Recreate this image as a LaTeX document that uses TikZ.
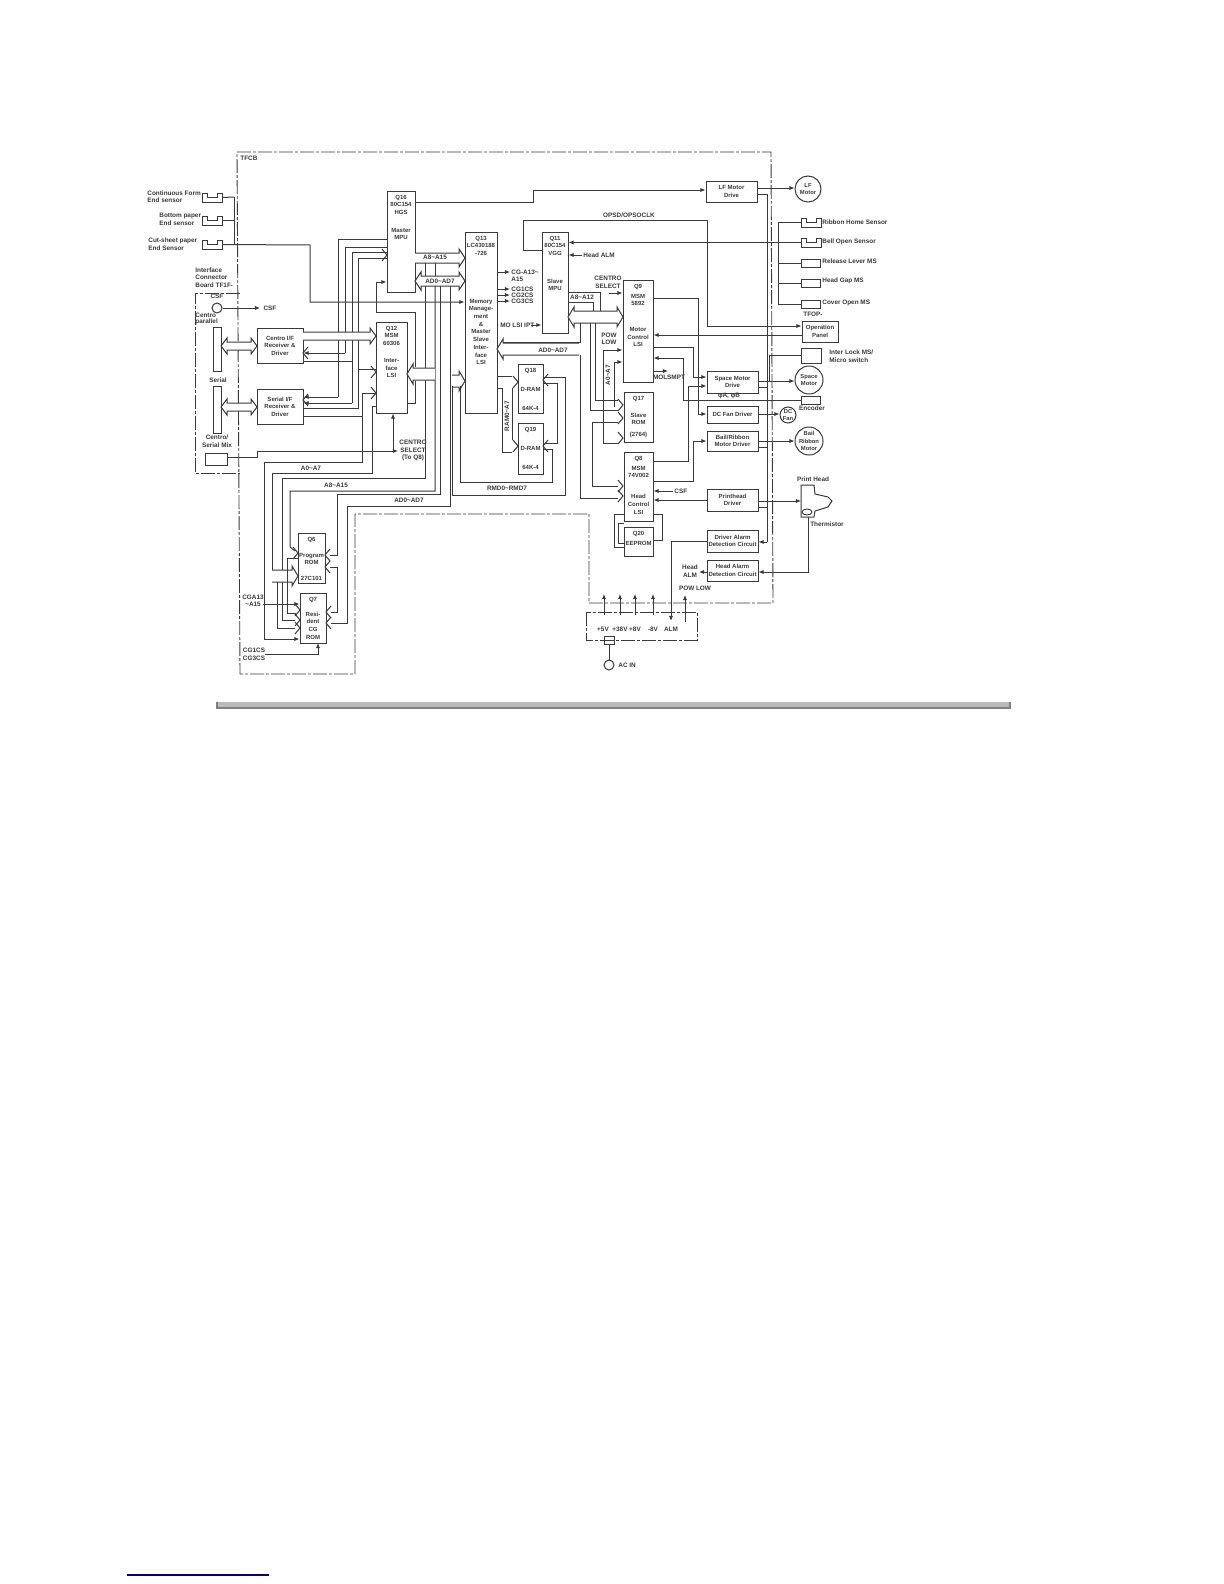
\documentclass[tikz,border=0pt]{standalone}
\usepackage{fontspec}
\setmainfont{Liberation Sans}
\usetikzlibrary{arrows.meta}
\definecolor{ink}{HTML}{3A3A3A}
\newcounter{lb}
\newcommand{\tl}{\char"7E\relax}
\tikzset{
  x=0.5pt,y=-0.5pt,
  wire/.style={line width=0.5pt,draw=ink},
  ar/.style={wire,-{Latex[length=2.6pt,width=2.2pt]}},
  frameline/.style={line width=0.45pt,draw=ink,dash pattern=on 7pt off 1pt on 1.5pt off 1pt},
  bx/.style={draw=ink,line width=0.5pt,fill=white,inner sep=0pt,align=center,text=ink,font=\fontsize{3}{3.8}\selectfont\bfseries},
  lbl/.style={inner sep=0pt,align=center,text=ink,font=\fontsize{3.2}{3.8}\selectfont\bfseries},
  inbox/.style={inner sep=0pt,align=center,text=ink,font=\fontsize{3}{3.85}\selectfont\bfseries},
  mot/.style={draw=ink,line width=0.5pt,circle,fill=white,inner sep=0pt,align=center,text=ink,font=\fontsize{2.9}{3.6}\selectfont\bfseries},
  hollow/.style={line width=0.5pt,draw=ink,fill=white}
}
\newcommand{\bxn}[6]{\node[bx,minimum width={(#4-#2)*0.5pt},minimum height={(#5-#3)*0.5pt}] (#1) at ({(#2+#4)/2},{(#3+#5)/2}) {#6};}
% box whose text starts at its top edge
\newcommand{\bxq}[6]{\node[bx,minimum width={(#4-#2)*0.5pt},minimum height={(#5-#3)*0.5pt}] (#1) at ({(#2+#4)/2},{(#3+#5)/2}) {};
  \node[inbox,anchor=north] (#1txt) at ({(#2+#4)/2},{#3+3.5}) {#6};}
\newcommand{\lb}[4][]{\stepcounter{lb}\node[lbl,#1] (t\arabic{lb}) at (#2,#3) {#4};}
\newcommand{\sens}[3]{\node[minimum width=10pt,minimum height=4.5pt,inner sep=0pt] (#1) at ({#2+10},{#3+4.5}) {};
  \draw[line width=0.5pt,draw=ink] (#2,#3) -- ({#2+5},#3) -- ({#2+5},{#3+4}) -- ({#2+15},{#3+4}) -- ({#2+15},#3) -- ({#2+20},#3) -- ({#2+20},{#3+9}) -- (#2,{#3+9}) -- cycle;}
% hollow bus: both heads / right head / left head
\newcommand{\busB}[4]{\draw[hollow] (#1,#3) -- ({#1+6},{#3-#4-4}) -- ({#1+6},{#3-#4}) -- ({#2-6},{#3-#4}) -- ({#2-6},{#3-#4-4}) -- (#2,#3) -- ({#2-6},{#3+#4+4}) -- ({#2-6},{#3+#4}) -- ({#1+6},{#3+#4}) -- ({#1+6},{#3+#4+4}) -- cycle;}
\newcommand{\busR}[4]{\draw[hollow] (#1,{#3-#4}) -- ({#2-6},{#3-#4}) -- ({#2-6},{#3-#4-4}) -- (#2,#3) -- ({#2-6},{#3+#4+4}) -- ({#2-6},{#3+#4}) -- (#1,{#3+#4});}
\newcommand{\busL}[4]{\draw[hollow] (#2,{#3-#4}) -- ({#1+6},{#3-#4}) -- ({#1+6},{#3-#4-4}) -- (#1,#3) -- ({#1+6},{#3+#4+4}) -- ({#1+6},{#3+#4}) -- (#2,{#3+#4});}
\newcommand{\chR}[2]{\draw[wire] ({#1-5},{#2-6}) -- (#1,#2) -- ({#1-5},{#2+6});}
\newcommand{\chL}[2]{\draw[wire] ({#1+5},{#2-6}) -- (#1,#2) -- ({#1+5},{#2+6});}
\begin{document}
\begin{tikzpicture}
\useasboundingbox (0,0) rectangle (1224,1584);
\fill[white] (0,0) rectangle (1224,1584);

% TFCB frame
\draw[frameline] (237,152) -- (771,152) -- (773,603) -- (589,603) -- (589,514) -- (355,514) -- (355,674) -- (240,674) -- cycle;
\lb[anchor=west]{240}{158}{TFCB}
% interface board frame
\draw[frameline] (240,293) -- (195,293) -- (195,473) -- (240,473);

% --- main boxes
\bxq{qsixteen}{387}{191}{415}{292}{Q16\\80C154\\HGS\\[5pt]Master\\MPU}
\bxq{qthirteen}{465}{232}{497}{413}{Q13\\LC430188\\-726\\[20pt]Memory\\Manage-\\ment\\\&\\Master\\Slave\\Inter-\\face\\LSI}
\bxq{qeleven}{542}{232}{568}{333}{Q11\\80C154\\VGG\\[10pt]Slave\\MPU}
\bxq{qnine}{623}{280}{653}{382}{Q9\\[1.2pt]MSM\\5892\\[9pt]Motor\\Control\\LSI}
\bxq{qseventeen}{624}{392}{653}{442}{Q17\\[4.7pt]Slave\\ROM\\[2.2pt](2764)}
\bxq{qeight}{624}{452}{653}{521}{Q8\\[1.2pt]MSM\\74V002\\[6.7pt]Head\\Control\\LSI}
\bxq{qtwenty}{624}{527}{653}{556}{Q20\\[1.2pt]EEPROM}
\bxq{qeighteen}{518}{364}{543}{413}{Q18\\[5.7pt]D-RAM\\[5.7pt]64K-4}
\bxq{qnineteen}{518}{423}{543}{474}{Q19\\[5.7pt]D-RAM\\[5.7pt]64K-4}
\bxq{qtwelve}{376}{322}{407}{413}{Q12\\MSM\\60306\\[4.7pt]Inter-\\face\\LSI}
\bxn{centro}{257}{328}{303}{363}{Centro I/F\\Receiver \&\\Driver}
\bxn{serialif}{257}{389}{303}{424}{Serial I/F\\Receiver \&\\Driver}
\bxq{qsix}{298}{533}{325}{583}{Q6\\[4.2pt]Program\\ROM\\[4.2pt]27C101}
\bxq{qseven}{300}{593}{326}{643}{Q7\\[3.7pt]Resi-\\dent\\CG\\ROM}
\bxn{lfdrive}{706}{181}{757}{202}{LF Motor\\Drive}
\bxn{spdrive}{707}{371}{758}{393}{Space Motor\\Drive}
\bxn{fandrive}{707}{406}{758}{423}{DC Fan Driver}
\bxn{baildrive}{707}{431}{758}{451}{Bail/Ribbon\\Motor Driver}
\bxn{phdrive}{707}{489}{758}{511}{Printhead\\Driver}
\bxn{dalarm}{707}{530}{758}{552}{Driver Alarm\\Detection Circuit}
\bxn{halarm}{707}{560}{758}{581}{Head Alarm\\Detection Circuit}
\bxn{oppanel}{802}{321}{838}{342}{Operation\\Panel}
\bxn{release}{801}{259}{820}{267}{}
\bxn{headgap}{801}{279}{820}{287}{}
\bxn{cover}{801}{300}{820}{308}{}
\bxn{interlock}{801}{348}{821}{363}{}
\bxn{encoder}{801}{396}{820}{404}{}
\bxn{conpar}{213}{327}{221}{371}{}
\bxn{conser}{213}{386}{221}{433}{}
\bxn{mixbox}{205}{453}{227}{465}{}
\bxn{pwrjack}{604}{636}{614}{644}{}

% motors
\node[mot,minimum size=13pt] (lfmotor) at (808,189) {LF\\Motor};
\node[mot,minimum size=14pt] (spmotor) at (809,380) {Space\\Motor};
\node[mot,minimum size=8pt] (dcfan) at (788,415) {DC\\Fan};
\node[mot,minimum size=14pt] (bailmotor) at (809,441) {Bail\\Ribbon\\Motor};
\node[mot,minimum size=5pt] (csfjack) at (217,308) {};
\node[mot,minimum size=5pt] (acin) at (609,665) {};

% sensors
\sens{senscont}{202}{193}
\sens{sensbot}{202}{216}
\sens{senscut}{202}{240}
\sens{sensrib}{801}{218}
\sens{sensbell}{801}{238}

% --- left sensor wires
\coordinate (sb) at (234,197);
\draw[wire] (senscont.east) -- (sb);
\draw[wire] (sensbot.east) -- (sensbot.east -| sb);
\draw[wire] (sb) -- (234,245);
\draw[ar] (senscut.east) -- (310,245) -- (310,302) -- (qthirteen.west |- 0,302);

% --- Q16 to top and LF drive
\draw[ar] (qsixteen.east |- 0,202) -- (533,202) -- (533,190) -- (lfdrive.west |- 0,190);
% --- Q16 left bus lines
\draw[wire] (qsixteen.west |- 0,239) -- (338,239) -- (338,397);
\draw[ar] (338,397) -- (serialif.east |- 0,397);
\draw[ar] (345,353) -- (centro.east |- 0,353);
\draw[wire] (qsixteen.west |- 0,247) -- (345,247) -- (345,353);
\draw[wire] (qsixteen.west |- 0,252) -- (352,252) -- (352,403);
\draw[wire] (centro.east |- 0,361) -- (352,361);
\draw[ar] (352,403) -- (serialif.east |- 0,403);
\draw[wire] (qsixteen.west |- 0,258) -- (358,258) -- (358,408) -- (serialif.east |- 0,408);
\chR{387}{255}
\draw[wire] (358,369) -- (qtwelve.west |- 0,369);
\chR{376}{372}
\draw[wire] (serialif.east |- 0,416) -- (362,416) -- (362,462) -- (264,462) -- (264,639);
\draw[ar] (264,639) -- (qseven.west |- 0,639);
\draw[wire] (362,416) -- (362,393);
\draw[wire] (362,393) -- (qtwelve.west |- 0,393);
\chR{376}{393}
% Centro to Q12
\busR{303}{376}{336}{4}
\chL{303}{353}
\chL{303}{400}
% connector buses
\busB{221}{257}{346}{4}
\busB{221}{257}{407}{4}
% CSF
\draw[ar] (csfjack.east) -- (260,308);
\lb{270}{308}{CSF}
\lb{217}{296}{CSF}
% Mix box to centro select
\draw[wire] (mixbox.east |- 0,457) -- (257,457) -- (257,451) -- (362,451);
\draw[wire] (362,451) -- (373,451);
\coordinate (cselpt) at (393,451);
\draw[wire] (373,451) -- (cselpt);
\draw[ar] (cselpt) -- (398,451);
\draw[ar] (cselpt) -- (cselpt |- qtwelve.south);
\draw[wire] (qtwelve.west |- 0,406) -- (372,406) -- (372,473) -- (272,473) -- (272,570);
% Q16 to bus of Q12
\draw[ar] (415,312) -- (376,312) -- (376,282) -- (qsixteen.west |- 0,282);
\draw[wire] (415,312) -- (415,367);
% A8-A15 and AD buses Q16-Q13
\busR{415}{465}{258}{5}
\busB{415}{465}{281}{5}
\draw[wire] (425,263) -- (425,276);
\draw[wire] (425,286) -- (425,478) -- (282,478) -- (282,620) -- (295,620);
\draw[wire] (435,263) -- (435,276);
\draw[wire] (435,286) -- (435,491) -- (290,491) -- (290,547) -- (295,551);
\draw[wire] (440,286) -- (440,494) -- (337,494) -- (337,555) -- (330,555);
\draw[wire] (450,286) -- (450,506) -- (347,506) -- (347,623) -- (331,623);
% Q12 right bus
\busL{407}{435}{374}{6}
\draw[wire] (qtwelve.east |- 0,403) -- (415,403) -- (415,381);
% RAM data
\busR{452}{465}{381}{6}
\draw[wire] (452,386) -- (452,495) -- (565,495) -- (565,377) -- (qeighteen.east |- 0,377);
\draw[wire] (460,386) -- (460,482) -- (552,482) -- (552,449) -- (qnineteen.east |- 0,449);
\draw[wire] (557,383) -- (qeighteen.east |- 0,383);
\draw[wire] (557,383) -- (557,443) -- (qnineteen.east |- 0,443);
\chL{543}{380}
\chL{543}{446}
\lb{507}{488}{RMD0\tl RMD7}
% RAM address
\draw[wire] (qthirteen.east |- 0,376) -- (512,376);
\draw[wire] (qthirteen.east |- 0,388) -- (502,388) -- (502,452) -- (512,452);
\draw[wire] (512,388) -- (512,440);
\chR{518}{382}
\chR{518}{446}
\lb[rotate=90]{507}{416}{RAM0\tl A7}
% Q13 outputs
\draw[ar] (qthirteen.east |- 0,272) -- (510,272);
\draw[ar] (qthirteen.east |- 0,289) -- (510,289);
\draw[ar] (qthirteen.east |- 0,295) -- (510,295);
\draw[ar] (qthirteen.east |- 0,301) -- (510,301);
\lb[anchor=west]{511}{272}{CG-A13\tl}
\lb[anchor=west]{511}{279}{A15}
\lb[anchor=west]{511}{289}{CG1CS}
\lb[anchor=west]{511}{295}{CG2CS}
\lb[anchor=west]{511}{301}{CG3CS}
\lb[anchor=west]{500}{325}{MO LSI IPT}
\draw[ar] (531,325) -- (qeleven.west |- 0,325);
% Q11
\draw[ar] (582,255) -- (qeleven.east |- 0,255);
\lb[anchor=west]{583}{255}{Head ALM}
\draw[ar] (sensbell.west) -- (qeleven.east |- sensbell.west);
\draw[ar] (qeleven.west |- 0,250) -- (523,250) -- (523,220) -- (707,220) -- (707,326) -- (oppanel.west |- 0,326);
\lb{629}{215}{OPSD/OPSOCLK}
\draw[wire] (qeleven.east |- 0,292) -- (600,292) -- (600,311);
\draw[wire] (qeleven.east |- 0,302) -- (593,302) -- (593,311);
\lb{582}{297}{A8\tl A12}
\busB{568}{623}{317}{6}
% lower Q11 bus
\draw[wire] (580,323) -- (580,342) -- (503,342);
\busL{497}{579}{349}{6}
\draw[wire] (580,355) -- (580,498) -- (618,498);
\chR{623}{496}
\lb{553}{350}{AD0\tl AD7}
% Q17 Q8 bus lines
\draw[wire] (590,323) -- (590,410) -- (618,410);
\draw[wire] (595,323) -- (595,400) -- (618,400);
\draw[wire] (592,422) -- (618,422);
\draw[wire] (592,422) -- (592,486) -- (618,486);
\chR{623}{405}
\chR{623}{418}
\chR{623}{486}
\draw[ar] (603,350) -- (qnine.west |- 0,350);
\draw[wire] (603,350) -- (603,443) -- (618,443);
\chR{623}{438}
\draw[ar] (614,407) -- (614,362) -- (qnine.west |- 0,362);
\lb[rotate=90]{608}{375}{A0\tl A7}
\lb{609}{335}{POW}
\lb{609}{342}{LOW}
\lb{608}{278}{CENTRO}
\lb{608}{286}{SELECT}
\draw[ar] (609,293) -- (qnine.west |- 0,293);
% Q9 right
\draw[ar] (qnine.east |- 0,298) -- (698,298) -- (698,414) -- (fandrive.west |- 0,414);
\draw[ar] (qnine.east |- 0,347) -- (693,347) -- (693,377) -- (spdrive.west |- 0,377);
\draw[ar] (oppanel.west |- 0,335) -- (qnine.east |- 0,335);
\draw[ar] (encoder.west) -- (683,400) -- (683,358) -- (qnine.east |- 0,358);
\draw[ar] (qeight.east |- 0,461) -- (688,461) -- (688,386) -- (spdrive.west |- 0,386);
\draw[ar] (653,371) -- (668,371);
\lb{669}{377}{MOLSMPT}
\draw[ar] (qeight.east |- 0,481) -- (693,481) -- (693,441) -- (baildrive.west |- 0,441);
\draw[ar] (673,491) -- (qeight.east |- 0,491);
\lb[anchor=west]{674}{491}{CSF}
\draw[ar] (phdrive.west |- 0,500) -- (qeight.east |- 0,500);
% Q8-Q20
\draw[wire] (qeight.west |- 0,514) -- (614,514) -- (614,547) -- (qtwenty.west |- 0,547);
\draw[wire] (qtwenty.west |- 0,543) -- (618,543) -- (618,523) -- (624,523);
\draw[wire] (qeight.east |- 0,514) -- (662,514) -- (662,540) -- (qtwenty.east |- 0,540);
% right drivers to motors
\draw[ar] (lfdrive.east |- 0,188) -- (lfmotor.west |- 0,188);
\draw[ar] (spdrive.east |- 0,381) -- (spmotor.west |- 0,381);
\draw[ar] (fandrive.east |- 0,414) -- (dcfan.west |- 0,414);
\draw[ar] (baildrive.east |- 0,441) -- (bailmotor.west |- 0,441);
\draw[wire] (lfdrive.east |- 0,194) -- (767,194) -- (767,542);
\draw[ar] (767,542) -- (dalarm.east |- 0,542);
\draw[wire] (spdrive.east |- 0,387) -- (767,387);
\draw[wire] (baildrive.east |- 0,447) -- (767,447);
\draw[wire] (phdrive.east |- 0,507) -- (767,507);
\draw[wire] (interlock.west) -- (769,355.5) -- (769,382);
% right sensor group
\draw[wire] (sensrib.west) -- (778,222.5) -- (778,304) -- (cover.west);
\draw[wire] (release.west) -- (778,263);
\draw[wire] (headgap.west) -- (778,283);
% print head
\coordinate (phin) at (801,501);
\draw[ar] (phdrive.east |- phin) -- (phin);
\draw[line width=0.5pt,draw=ink] (801,485) -- (814,485) -- (815,494) -- (828,497) -- (832,501) -- (828,507) -- (815,511) -- (814,517) -- (801,517) -- cycle;
\draw[line width=0.45pt,draw=ink] (807,512) ellipse [x radius=5,y radius=3];
\coordinate (thout) at (808,517);
\draw[ar] (thout) -- (808,572) -- (halarm.east |- 0,572);
\draw[ar] (halarm.west |- 0,572) -- (699,572);
\draw[ar] (dalarm.west |- 0,541) -- (671,541) -- (671,621);
% power
\draw[frameline] (586,612) rectangle (697,640);
\draw[ar] (604,615) -- (604,594);
\draw[ar] (620,615) -- (620,594);
\draw[ar] (635,615) -- (635,594);
\draw[ar] (653,615) -- (653,594);
\draw[ar] (685,622) -- (685,595);
\draw[wire] (pwrjack.south) -- (acin.north);
% Q6 Q7 buses
\busR{272}{298}{576}{6}
\draw[wire] (277,582) -- (277,628) -- (295,628);
\chR{300}{628}
\chR{300}{620}
\chR{298}{553}
\draw[wire] (287,558) -- (298,558);
\draw[wire] (287,558) -- (287,613) -- (296,613);
\chR{300}{610}
\draw[ar] (263,604) -- (qseven.west |- 0,604);
\chL{325}{555}
\chL{325}{567}
\draw[wire] (330,567) -- (337,567) -- (337,612) -- (331,612);
\chL{326}{612}
\chL{326}{623}
\draw[ar] (265,654) -- (318,654) -- (318,643);

% --- labels
\lb[anchor=west]{147}{193}{Continuous Form}
\lb[anchor=west]{147}{200}{End sensor}
\lb[anchor=west]{159}{216}{Bottom paper}
\lb[anchor=west]{159}{223}{End sensor}
\lb[anchor=west]{148}{241}{Cut-sheet paper}
\lb[anchor=west]{148}{248}{End Sensor}
\lb[anchor=west]{195}{270}{Interface}
\lb[anchor=west]{195}{277}{Connector}
\lb[anchor=west]{195}{285}{Board TF1F-}
\lb[anchor=west]{195}{315}{Centro}
\lb[anchor=west]{195}{322}{parallel}
\lb{218}{380}{Serial}
\lb{217}{437}{Centro/}
\lb{217}{445}{Serial Mix}
\lb{413}{442}{CENTRO}
\lb{413}{450}{SELECT}
\lb{413}{458}{(To Q8)}
\lb{311}{468}{A0\tl A7}
\lb{336}{485}{A8\tl A15}
\lb{409}{500}{AD0\tl AD7}
\lb{435}{257}{A8\tl A15}
\lb{440}{281}{AD0\tl AD7}
\lb{253}{597}{CGA13}
\lb{253}{604}{\tl A15}
\lb{254}{650}{CG1CS}
\lb{254}{658}{CG3CS}
\lb[anchor=west]{822}{222}{Ribbon Home Sensor}
\lb[anchor=west]{822}{242}{Bell Open Sensor}
\lb[anchor=west]{822}{261}{Release Lever MS}
\lb[anchor=west]{822}{281}{Head Gap MS}
\lb[anchor=west]{822}{303}{Cover Open MS}
\lb{813}{314}{TFOP-}
\lb[anchor=west]{829}{352}{Inter Lock MS/}
\lb[anchor=west]{829}{360}{Micro switch}
\lb{812}{408}{Encoder}
\lb{729}{396}{φA, φB}
\lb{813}{479}{Print Head}
\lb{827}{524}{Thermistor}
\lb{690}{567}{Head}
\lb{690}{575}{ALM}
\lb{695}{588}{POW  LOW}
\lb{603}{629}{+5V}
\lb{620}{629}{+38V}
\lb{635}{629}{+8V}
\lb{653}{629}{-8V}
\lb{671}{629}{ALM}
\lb[anchor=west]{618}{665}{AC IN}

% bottom bar and rule
\fill[black!50] (216,702) rectangle (1011,709);
\fill[black!27] (218,702) rectangle (1009,706.5);
\draw[line width=0.6pt,draw={rgb,255:red,0;green,0;blue,128}] (127,1575) -- (269,1575);
\end{tikzpicture}
\end{document}
